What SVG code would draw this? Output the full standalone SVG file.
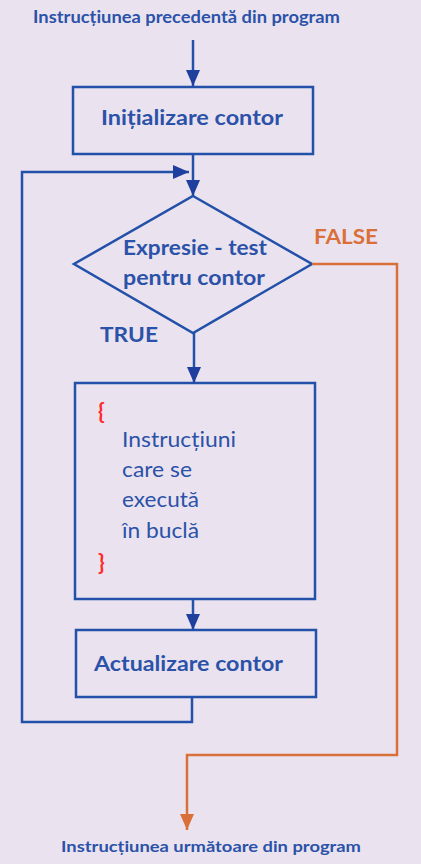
<svg xmlns="http://www.w3.org/2000/svg" width="421" height="864" viewBox="0 0 421 864">
<defs>
<style>
.bx{fill:none;stroke:#2350A8;stroke-width:2.5}
.ln{fill:none;stroke:#2350A8;stroke-width:2.5}
.or{fill:none;stroke:#D9703A;stroke-width:2.5}
.t{font-family:Lato,"Liberation Sans",sans-serif;fill:#2B52A8}
.b{font-weight:bold}
.r{font-family:Lato,"Liberation Sans",sans-serif;fill:#FF2A2A;font-size:22px;font-weight:bold}
</style>
<marker id="ab" viewBox="0 0 16 14" refX="16" refY="7" markerWidth="16" markerHeight="14" markerUnits="userSpaceOnUse" orient="auto"><path d="M0,0 L16,7 L0,14 Z" fill="#1F3F9F"/></marker>
<marker id="ao" viewBox="0 0 16 14" refX="16" refY="7" markerWidth="16" markerHeight="14" markerUnits="userSpaceOnUse" orient="auto"><path d="M0,0 L16,7 L0,14 Z" fill="#D9703A"/></marker>
</defs>
<rect width="421" height="864" fill="#EAE3EF"/>
<g id="start"><text class="t b" x="33" y="23" font-size="16.5" textLength="307" lengthAdjust="spacingAndGlyphs">Instrucțiunea precedentă din program</text></g>
<g id="init"><rect class="bx" x="73" y="87" width="240" height="67"/><text class="t b" x="101" y="125" font-size="21" textLength="182" lengthAdjust="spacingAndGlyphs">Inițializare contor</text></g>
<g id="test"><path class="bx" d="M193,196 L312,264 L193,333 L74,264 Z"/><text class="t b" x="123" y="255" font-size="21" textLength="144" lengthAdjust="spacingAndGlyphs">Expresie - test</text><text class="t b" x="123" y="285" font-size="21" textLength="142" lengthAdjust="spacingAndGlyphs">pentru contor</text></g>
<g id="false-label"><text x="314" y="244" font-size="21" font-family="Lato,'Liberation Sans',sans-serif" font-weight="bold" fill="#D9703A" textLength="64" lengthAdjust="spacingAndGlyphs">FALSE</text></g>
<g id="true-label"><text class="t b" x="100" y="342" font-size="21.5" textLength="58" lengthAdjust="spacingAndGlyphs">TRUE</text></g>
<g id="body"><rect class="bx" x="75" y="383" width="240" height="216"/>
<text class="r" x="98" y="419">{</text>
<text class="t" x="122" y="447" font-size="21" textLength="114" lengthAdjust="spacingAndGlyphs">Instrucțiuni</text>
<text class="t" x="122" y="477" font-size="21" textLength="70" lengthAdjust="spacingAndGlyphs">care se</text>
<text class="t" x="122" y="507" font-size="21" textLength="77" lengthAdjust="spacingAndGlyphs">execută</text>
<text class="t" x="122" y="538" font-size="21" textLength="77" lengthAdjust="spacingAndGlyphs">în buclă</text>
<text class="r" x="98" y="570">}</text></g>
<g id="update"><rect class="bx" x="76" y="630" width="240" height="67"/><text class="t b" x="94" y="671" font-size="21" textLength="189" lengthAdjust="spacingAndGlyphs">Actualizare contor</text></g>
<g id="end"><text class="t b" x="61" y="852" font-size="16" textLength="300" lengthAdjust="spacingAndGlyphs">Instrucțiunea următoare din program</text></g>
<g id="connectors">
<path class="ln" d="M193,40 L193,86" marker-end="url(#ab)"/>
<path class="ln" d="M193,154 L193,196" marker-end="url(#ab)"/>
<path class="ln" d="M192,697 L192,722 L22,722 L22,172 L189,172" marker-end="url(#ab)"/>
<path class="ln" d="M194,333 L194,383" marker-end="url(#ab)"/>
<path class="ln" d="M193,599 L193,630" marker-end="url(#ab)"/>
<path class="or" d="M312,264 L397,264 L397,755 L187,755 L187,830" marker-end="url(#ao)"/>
</g>
</svg>
